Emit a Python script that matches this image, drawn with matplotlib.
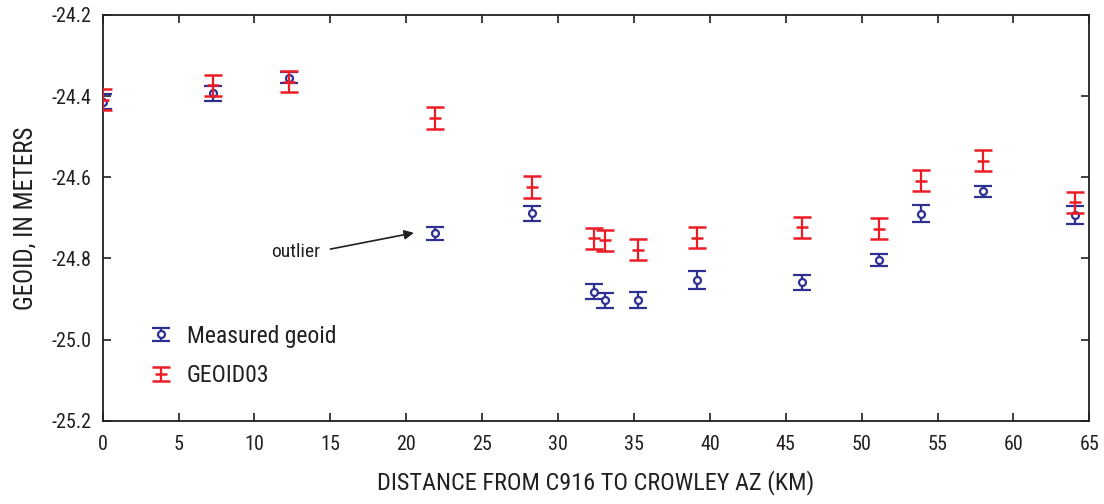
import matplotlib
matplotlib.use('Agg')
import matplotlib.pyplot as plt
from matplotlib import font_manager
from matplotlib.container import ErrorbarContainer
from matplotlib.legend_handler import HandlerErrorbar

# pick a narrow face if one is installed
narrow = None
for f in font_manager.fontManager.ttflist:
    if f.name in ('Liberation Sans Narrow', 'Roboto Condensed', 'Arial Narrow', 'Open Sans Condensed'):
        narrow = f.name
        break
if narrow is None:
    for f in font_manager.fontManager.ttflist:
        if 'ondensed' in str(f.stretch) or 'ondensed' in f.fname or 'Narrow' in f.fname:
            narrow = f.name
            plt.rcParams['font.stretch'] = 'condensed'
            break
plt.rcParams['font.family'] = [narrow or 'Liberation Sans', 'DejaVu Sans']

# distance along the line, km
distance = [0.0, 7.25, 12.29, 21.91, 28.30, 32.38, 33.11, 35.26, 39.13, 46.05, 51.16, 53.89, 57.99, 64.03]

measured = [-24.414, -24.393, -24.355, -24.738, -24.689, -24.882, -24.903, -24.902,
            -24.853, -24.859, -24.804, -24.690, -24.634, -24.693]
measured_err = [0.0185, 0.0185, 0.0136, 0.0165, 0.018, 0.019, 0.0185, 0.020,
                0.022, 0.019, 0.0144, 0.0206, 0.0136, 0.021]

geoid03 = [-24.409, -24.373, -24.364, -24.454, -24.624, -24.750, -24.755, -24.779,
           -24.749, -24.723, -24.727, -24.608, -24.559, -24.662]
geoid03_err = [0.026] * 14

blue = '#2e3192'
red = '#ed1c24'
ink = '#231f20'

fig = plt.figure(figsize=(11.04, 5.04), dpi=100)
ax = fig.add_axes([102.7 / 1104, 1 - 420.7 / 504, (1089.3 - 102.7) / 1104, (420.7 - 15) / 504])

eb1 = ax.errorbar(distance, measured, yerr=measured_err, fmt='o', color=blue, mfc='white',
                  mec=blue, mew=1.6, ms=5, elinewidth=1.6, capsize=6.2, capthick=1.8, zorder=3)
eb2 = ax.errorbar(distance, geoid03, yerr=geoid03_err, fmt='_', color=red, mew=1.8, ms=8,
                  elinewidth=1.6, capsize=6.2, capthick=1.8, zorder=4)

ax.set_xlim(0, 65)
ax.set_ylim(-25.2, -24.2)
ax.set_xticks(range(0, 66, 5))
ax.set_yticks([-25.2, -25.0, -24.8, -24.6, -24.4, -24.2])
ax.set_yticklabels(['-25.2', '-25.0', '-24.8', '-24.6', '-24.4', '-24.2'])
ax.tick_params(direction='in', length=6, width=1.2, top=True, right=True,
               labelsize=14.5, colors=ink)
ax.tick_params(axis='x', pad=10)
ax.tick_params(axis='y', pad=8)
for s in ax.spines.values():
    s.set_linewidth(1.3)
    s.set_color(ink)

ax.set_xlabel('DISTANCE FROM C916 TO CROWLEY AZ (KM)', fontsize=17.5, color=ink, labelpad=12)
ax.set_ylabel('GEOID, IN METERS', fontsize=18, color=ink, labelpad=10)

# outlier note
ax.text(14.35, -24.783, 'outlier', fontsize=14, ha='right', va='center', color=ink)
ax.annotate('', xy=(20.5, -24.737), xytext=(15.0, -24.777),
            arrowprops=dict(arrowstyle='-|>', color=ink, lw=1.2,
                            mutation_scale=14, shrinkA=0, shrinkB=0))

leg = ax.legend([eb1, eb2], ['Measured geoid', 'GEOID03'], loc='upper left',
                bbox_to_anchor=(0.036, 0.26), frameon=False, fontsize=17,
                handlelength=1.1, handletextpad=0.55, labelspacing=0.7,
                borderaxespad=0,
                handler_map={ErrorbarContainer: HandlerErrorbar(yerr_size=0.28)})
for t in leg.get_texts():
    t.set_color(ink)

fig.savefig('out.png', dpi=100)
